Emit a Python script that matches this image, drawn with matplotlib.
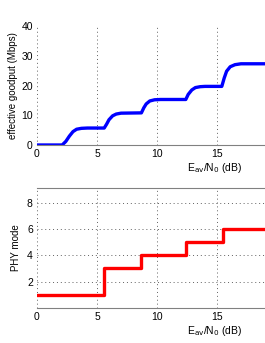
import matplotlib
matplotlib.use("Agg")
import matplotlib.pyplot as plt

plt.rcParams['font.family'] = ['Liberation Sans', 'DejaVu Sans']

# goodput curve
snr = [0, 2.1, 2.4, 2.7, 3.0, 3.3, 3.7, 4.2, 5.6,
       5.8, 6.0, 6.3, 6.6, 7.0, 8.7,
       8.9, 9.1, 9.4, 9.8, 10.3, 12.4,
       12.6, 12.9, 13.2, 13.6, 14.0, 15.4,
       15.6, 15.8, 16.1, 16.5, 17.0, 19.0]
goodput = [0, 0, 1.2, 3.0, 4.5, 5.3, 5.6, 5.7, 5.7,
           7.0, 8.5, 9.8, 10.4, 10.7, 10.8,
           12.5, 13.8, 14.8, 15.2, 15.3, 15.3,
           17.0, 18.5, 19.3, 19.6, 19.7, 19.7,
           22.5, 24.8, 26.3, 27.0, 27.3, 27.3]

# PHY mode steps
mode_x = [0, 5.6, 8.7, 12.4, 15.5, 19.0]
mode_y = [1, 3, 4, 5, 6, 6]

xlab = r'E$_{\rm av}$/N$_0$ (dB)'
gridkw = dict(color='#606060', ls=(0, (1, 3)), lw=0.7)

fig = plt.figure(figsize=(2.65, 3.43), dpi=100)
ax1 = fig.add_axes([37/265, 1-145/343, 1-37/265, (145-26)/343])
ax2 = fig.add_axes([37/265, 1-308/343, 1-37/265, (308-188)/343])

ax1.plot(snr, goodput, color='#0000ff', lw=2.4, solid_capstyle='butt')
ax1.set_xlim(0, 19)
ax1.set_ylim(0, 40)
ax1.set_yticks([0, 10, 20, 30, 40])
ax1.set_xticks([0, 5, 10, 15])
ax1.set_ylabel('effective goodput (Mbps)', fontsize=7, labelpad=2)
# horizontal grid only at 10 and 20, like the reference
ax1.set_yticks([10, 20], minor=True)
ax1.grid(True, which='major', axis='x', **gridkw)
ax1.grid(True, which='minor', axis='y', **gridkw)

ax2.step(mode_x, mode_y, where='post', color='#ff0000', lw=2.4)
ax2.set_xlim(0, 19)
ax2.set_ylim(0, 9.1)
ax2.set_yticks([2, 4, 6, 8])
ax2.set_xticks([0, 5, 10, 15])
ax2.set_ylabel('PHY mode', fontsize=7, labelpad=4)
ax2.grid(True, **gridkw)

for ax in (ax1, ax2):
    ax.tick_params(which='both', length=0, labelsize=7.5, pad=3)
    ax.spines['left'].set_visible(False)
    ax.spines['right'].set_visible(False)
    ax.spines['bottom'].set_color('#808080')
    ax.spines['top'].set_color('#808080')
    ax.set_xlabel(xlab, fontsize=7.5)
    ax.xaxis.set_label_coords(0.78, -0.135)
    ax.set_axisbelow(True)
ax1.spines['top'].set_visible(False)

fig.savefig('out.png', dpi=100)
